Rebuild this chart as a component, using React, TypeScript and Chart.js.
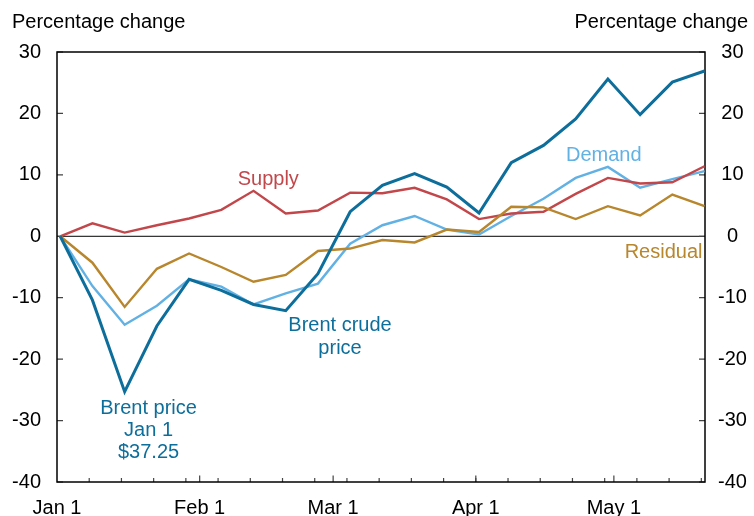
import { useEffect, useRef } from "react";
import { Chart, registerables } from "chart.js";

Chart.register(...registerables);

// Weekly observations (days since Jan 1, 2016)
const weekLabels = [
  "Jan 1", "Jan 8", "Jan 15", "Jan 22", "Jan 29", "Feb 5", "Feb 12", "Feb 19", "Feb 26",
  "Mar 4", "Mar 11", "Mar 18", "Mar 25", "Apr 1", "Apr 8", "Apr 15", "Apr 22", "Apr 29",
  "May 6", "May 13", "May 20",
];
const weekDays = [0, 7, 14, 21, 28, 35, 42, 49, 56, 63, 70, 77, 84, 91, 98, 105, 112, 119, 126, 133, 140];

const brent = [0, -10.4, -25.3, -14.6, -7.0, -8.8, -11.1, -12.1, -6.1, 4.0, 8.3, 10.2, 8.0, 3.8, 12.0, 14.8, 19.1, 25.6, 19.8, 25.1, 26.9];
const supply = [0, 2.1, 0.6, 1.8, 2.9, 4.3, 7.4, 3.7, 4.2, 7.1, 7.0, 7.9, 6.0, 2.8, 3.7, 4.0, 6.9, 9.5, 8.6, 8.8, 11.4];
const demand = [0, -8.1, -14.4, -11.3, -7.0, -8.2, -11.1, -9.3, -7.7, -1.2, 1.8, 3.3, 1.1, 0.3, 3.3, 6.1, 9.5, 11.3, 7.9, 9.3, 10.6];
const residual = [0, -4.3, -11.5, -5.3, -2.8, -5.0, -7.4, -6.3, -2.4, -2.0, -0.6, -1.0, 1.1, 0.7, 4.8, 4.7, 2.8, 4.9, 3.4, 6.8, 4.9];

const monthTickDays = [0, 31, 60, 91, 121];
const monthTickLabels = ["Jan 1", "Feb 1", "Mar 1", "Apr 1", "May 1"];
const yTickValues = [-40, -30, -20, -10, 0, 10, 20, 30];

const C_BRENT = "#0d6e9b";
const C_DEMAND = "#62b1e4";
const C_SUPPLY = "#c2474b";
const C_RESID = "#b8862c";
const FONT = '"Liberation Sans", Arial, sans-serif';

const DATA_OFFSET = 0.7; // observations fall slightly after the weekly tick

function pts(vals: number[]) {
  return vals.map((v, i) => ({ x: weekDays[i] + DATA_OFFSET, y: v }));
}

const decorPlugin = {
  id: "decor",
  beforeDatasetsDraw(chart: any) {
    const { ctx, chartArea: a, scales } = chart;
    const x = scales.x;
    const y = scales.y;
    ctx.save();
    // zero line
    const y0 = y.getPixelForValue(0);
    ctx.strokeStyle = "#000";
    ctx.lineWidth = 1;
    ctx.beginPath();
    ctx.moveTo(a.left, y0);
    ctx.lineTo(a.right, y0);
    ctx.stroke();
    // inward ticks
    ctx.strokeStyle = "#444";
    ctx.lineWidth = 1.2;
    for (const v of yTickValues) {
      const py = y.getPixelForValue(v);
      ctx.beginPath();
      ctx.moveTo(a.left, py);
      ctx.lineTo(a.left + 6, py);
      ctx.moveTo(a.right, py);
      ctx.lineTo(a.right - 6, py);
      ctx.stroke();
    }
    for (let d = 7; d <= 140; d += 7) {
      const px = x.getPixelForValue(d);
      ctx.beginPath();
      ctx.moveTo(px, a.bottom);
      ctx.lineTo(px, a.bottom - 4);
      ctx.stroke();
    }
    for (const d of monthTickDays.slice(1)) {
      const px = x.getPixelForValue(d);
      ctx.beginPath();
      ctx.moveTo(px, a.bottom);
      ctx.lineTo(px, a.bottom - 6.5);
      ctx.stroke();
    }
    // frame
    ctx.strokeStyle = "#000";
    ctx.lineWidth = 1.5;
    ctx.strokeRect(a.left, a.top, a.right - a.left, a.bottom - a.top);
    ctx.restore();
  },
  afterDraw(chart: any) {
    const { ctx, scales } = chart;
    const x = scales.x;
    const y = scales.y;
    ctx.save();
    ctx.font = `20px ${FONT}`;
    ctx.textBaseline = "middle";
    ctx.fillStyle = "#000";
    ctx.textAlign = "left";
    ctx.fillText("Percentage change", 12, 22);
    ctx.textAlign = "right";
    ctx.fillText("Percentage change", 748, 22);

    ctx.textAlign = "center";
    const put = (t: string, d: number, v: number, c: string) => {
      ctx.fillStyle = c;
      ctx.fillText(t, x.getPixelForValue(d), y.getPixelForValue(v));
    };
    put("Supply", 45.9, 9.2, C_SUPPLY);
    put("Demand", 118.8, 13.2, C_DEMAND);
    put("Residual", 131.8, -2.6, C_RESID);
    put("Brent crude", 61.5, -14.6, C_BRENT);
    put("price", 61.5, -18.2, C_BRENT);
    put("Brent price", 19.9, -28.0, C_BRENT);
    put("Jan 1", 19.9, -31.6, C_BRENT);
    put("$37.25", 19.9, -35.2, C_BRENT);
    ctx.restore();
  },
};

export default function App() {
  const ref = useRef<HTMLCanvasElement | null>(null);
  useEffect(() => {
    document.body.style.margin = "0";
    const canvas = ref.current!;
    const chart = new Chart(canvas, {
      type: "line",
      data: {
        datasets: [
          { label: "Brent crude price", data: pts(brent), borderColor: C_BRENT, borderWidth: 3 },
          { label: "Residual", data: pts(residual), borderColor: C_RESID, borderWidth: 2.4 },
          { label: "Supply", data: pts(supply), borderColor: C_SUPPLY, borderWidth: 2.4 },
          { label: "Demand", data: pts(demand), borderColor: C_DEMAND, borderWidth: 2.4 },
        ].map((d) => ({ ...d, pointRadius: 0, tension: 0, fill: false, borderJoinStyle: "miter" as const })),
      },
      options: {
        responsive: false,
        animation: false,
        devicePixelRatio: 1,
        layout: { padding: { top: 52, left: 0, right: 0, bottom: 0 } },
        plugins: { legend: { display: false }, tooltip: { enabled: false } },
        scales: {
          x: {
            type: "linear",
            min: 0,
            max: 140.8,
            grid: { display: false, drawTicks: false },
            border: { display: false },
            afterBuildTicks: (s: any) => {
              s.ticks = monthTickDays.map((v) => ({ value: v }));
            },
            afterFit: (s: any) => {
              s.height = 34;
            },
            ticks: {
              autoSkip: false,
              maxRotation: 0,
              padding: 14,
              color: "#000",
              font: { size: 20, family: FONT },
              callback: (v: any) => {
                const i = monthTickDays.indexOf(Number(v));
                return i >= 0 ? monthTickLabels[i] : "";
              },
            },
          },
          y: {
            position: "left",
            min: -40,
            max: 30,
            grid: { display: false, drawTicks: false },
            border: { display: false },
            afterBuildTicks: (s: any) => {
              s.ticks = yTickValues.map((v) => ({ value: v }));
            },
            afterFit: (s: any) => {
              s.width = 57;
            },
            ticks: {
              padding: 16,
              color: "#000",
              font: { size: 20, family: FONT },
            },
          },
          y2: {
            position: "right",
            min: -40,
            max: 30,
            grid: { display: false, drawTicks: false },
            border: { display: false },
            afterBuildTicks: (s: any) => {
              s.ticks = yTickValues.map((v) => ({ value: v }));
            },
            afterFit: (s: any) => {
              s.width = 49;
            },
            ticks: {
              padding: 13,
              crossAlign: "center",
              color: "#000",
              font: { size: 20, family: FONT },
            },
          },
        },
      },
      plugins: [decorPlugin],
    } as any);
    return () => chart.destroy();
  }, []);
  return <canvas ref={ref} width={754} height={516} style={{ display: "block" }} />;
}
